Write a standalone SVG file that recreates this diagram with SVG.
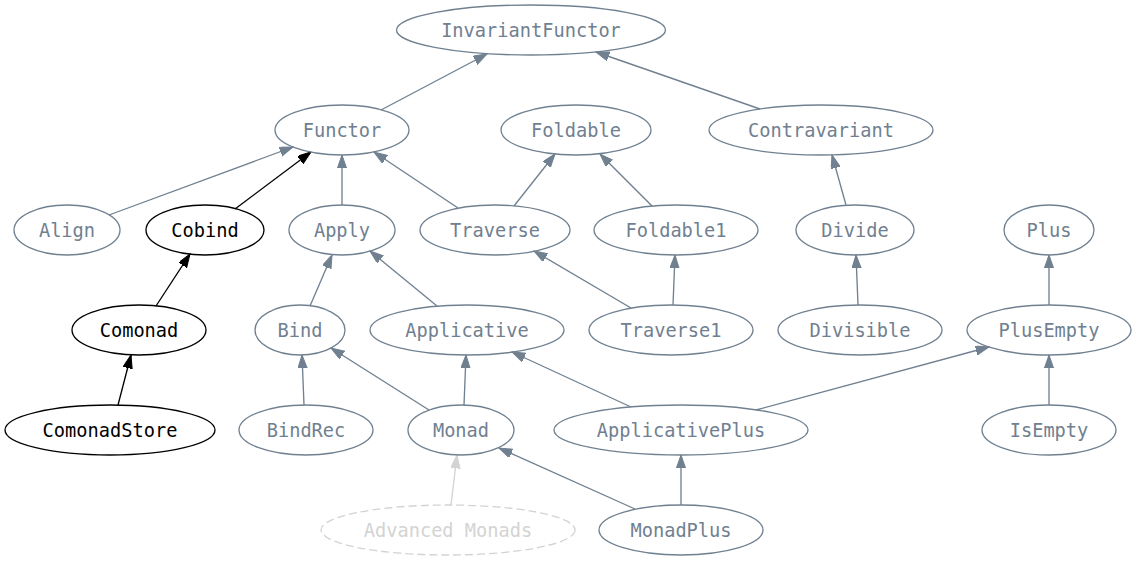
<svg xmlns="http://www.w3.org/2000/svg" width="1137" height="561" viewBox="0 0 1137 561">
<style>
.n ellipse{fill:none;stroke:#708090;stroke-width:1.33}
.n text{fill:#708090;font-family:"DejaVu Sans Mono",monospace;font-size:18.67px;text-anchor:middle}
.b ellipse{stroke:#000}
.b text{fill:#000}
.g ellipse{stroke:#d3d3d3;stroke-dasharray:8,4}
.g text{fill:#d3d3d3}
.e line{stroke:#708090;stroke-width:1.33;marker-end:url(#a)}
.e line.k{stroke:#000;marker-end:url(#ak)}
.e line.l{stroke:#d3d3d3;marker-end:url(#al)}
</style>
<defs>
<marker id="a" markerUnits="userSpaceOnUse" markerWidth="14" markerHeight="10" refX="13.3" refY="4.67" orient="auto"><path d="M0,0L13.3,4.67L0,9.33z" fill="#708090" stroke="#708090" stroke-width="1"/></marker>
<marker id="ak" markerUnits="userSpaceOnUse" markerWidth="14" markerHeight="10" refX="13.3" refY="4.67" orient="auto"><path d="M0,0L13.3,4.67L0,9.33z" fill="#000" stroke="#000" stroke-width="1"/></marker>
<marker id="al" markerUnits="userSpaceOnUse" markerWidth="14" markerHeight="10" refX="13.3" refY="4.67" orient="auto"><path d="M0,0L13.3,4.67L0,9.33z" fill="#d3d3d3" stroke="#d3d3d3" stroke-width="1"/></marker>
</defs>
<rect width="1137" height="561" fill="#fff"/>
<g id="edges" class="e">
<line x1="381" y1="110" x2="487" y2="54"/>
<line x1="760" y1="109" x2="596" y2="52"/>
<line x1="109" y1="215" x2="293" y2="147"/>
<line class="k" x1="235" y1="209" x2="311" y2="152"/>
<line x1="342" y1="205" x2="342" y2="155"/>
<line x1="458" y1="208" x2="374" y2="152"/>
<line x1="514" y1="206" x2="555" y2="154"/>
<line x1="652" y1="206" x2="600" y2="154"/>
<line x1="846" y1="205" x2="832" y2="155"/>
<line class="k" x1="156" y1="306" x2="190" y2="254"/>
<line x1="310" y1="306" x2="332" y2="255"/>
<line x1="437" y1="306" x2="370" y2="251"/>
<line x1="631" y1="308" x2="534" y2="251"/>
<line x1="673" y1="305" x2="675" y2="255"/>
<line x1="858" y1="305" x2="856" y2="255"/>
<line x1="1049" y1="305" x2="1049" y2="255"/>
<line class="k" x1="118" y1="405" x2="131" y2="355"/>
<line x1="304" y1="405" x2="302" y2="355"/>
<line x1="429" y1="410" x2="331" y2="348"/>
<line x1="464" y1="405" x2="466" y2="355"/>
<line x1="631" y1="407" x2="512" y2="352"/>
<line x1="756" y1="410" x2="989" y2="347"/>
<line x1="1049" y1="405" x2="1049" y2="355"/>
<line class="l" x1="451" y1="505" x2="457" y2="455"/>
<line x1="635" y1="509" x2="499" y2="448"/>
<line x1="681" y1="505" x2="681" y2="455"/>
</g>
<g id="InvariantFunctor" class="n"><ellipse cx="531" cy="30" rx="134.5" ry="25"/><text x="531" y="36.5">InvariantFunctor</text></g>
<g id="Functor" class="n"><ellipse cx="342" cy="130" rx="67" ry="25"/><text x="342" y="136.5">Functor</text></g>
<g id="Foldable" class="n"><ellipse cx="576" cy="130" rx="75" ry="25"/><text x="576" y="136.5">Foldable</text></g>
<g id="Contravariant" class="n"><ellipse cx="821" cy="130" rx="112" ry="25"/><text x="821" y="136.5">Contravariant</text></g>
<g id="Align" class="n"><ellipse cx="67" cy="230" rx="53" ry="25"/><text x="67" y="236.5">Align</text></g>
<g id="Cobind" class="n b"><ellipse cx="205" cy="230" rx="59" ry="25"/><text x="205" y="236.5">Cobind</text></g>
<g id="Apply" class="n"><ellipse cx="342" cy="230" rx="53" ry="25"/><text x="342" y="236.5">Apply</text></g>
<g id="Traverse" class="n"><ellipse cx="495" cy="230" rx="75" ry="25"/><text x="495" y="236.5">Traverse</text></g>
<g id="Foldable1" class="n"><ellipse cx="676" cy="230" rx="82" ry="25"/><text x="676" y="236.5">Foldable1</text></g>
<g id="Divide" class="n"><ellipse cx="855" cy="230" rx="59" ry="25"/><text x="855" y="236.5">Divide</text></g>
<g id="Plus" class="n"><ellipse cx="1049" cy="230" rx="45" ry="25"/><text x="1049" y="236.5">Plus</text></g>
<g id="Comonad" class="n b"><ellipse cx="139" cy="330" rx="67" ry="25"/><text x="139" y="336.5">Comonad</text></g>
<g id="Bind" class="n"><ellipse cx="300" cy="330" rx="45" ry="25"/><text x="300" y="336.5">Bind</text></g>
<g id="Applicative" class="n"><ellipse cx="467" cy="330" rx="97" ry="25"/><text x="467" y="336.5">Applicative</text></g>
<g id="Traverse1" class="n"><ellipse cx="671" cy="330" rx="82" ry="25"/><text x="671" y="336.5">Traverse1</text></g>
<g id="Divisible" class="n"><ellipse cx="860" cy="330" rx="82" ry="25"/><text x="860" y="336.5">Divisible</text></g>
<g id="PlusEmpty" class="n"><ellipse cx="1049" cy="330" rx="82" ry="25"/><text x="1049" y="336.5">PlusEmpty</text></g>
<g id="ComonadStore" class="n b"><ellipse cx="110" cy="430" rx="105" ry="25"/><text x="110" y="436.5">ComonadStore</text></g>
<g id="BindRec" class="n"><ellipse cx="306" cy="430" rx="67" ry="25"/><text x="306" y="436.5">BindRec</text></g>
<g id="Monad" class="n"><ellipse cx="461" cy="430" rx="53" ry="25"/><text x="461" y="436.5">Monad</text></g>
<g id="ApplicativePlus" class="n"><ellipse cx="681" cy="430" rx="127" ry="25"/><text x="681" y="436.5">ApplicativePlus</text></g>
<g id="IsEmpty" class="n"><ellipse cx="1049" cy="430" rx="67" ry="25"/><text x="1049" y="436.5">IsEmpty</text></g>
<g id="AdvancedMonads" class="n g"><ellipse cx="448" cy="530" rx="127" ry="25"/><text x="448" y="536.5">Advanced Monads</text></g>
<g id="MonadPlus" class="n"><ellipse cx="681" cy="530" rx="82" ry="25"/><text x="681" y="536.5">MonadPlus</text></g>
</svg>
